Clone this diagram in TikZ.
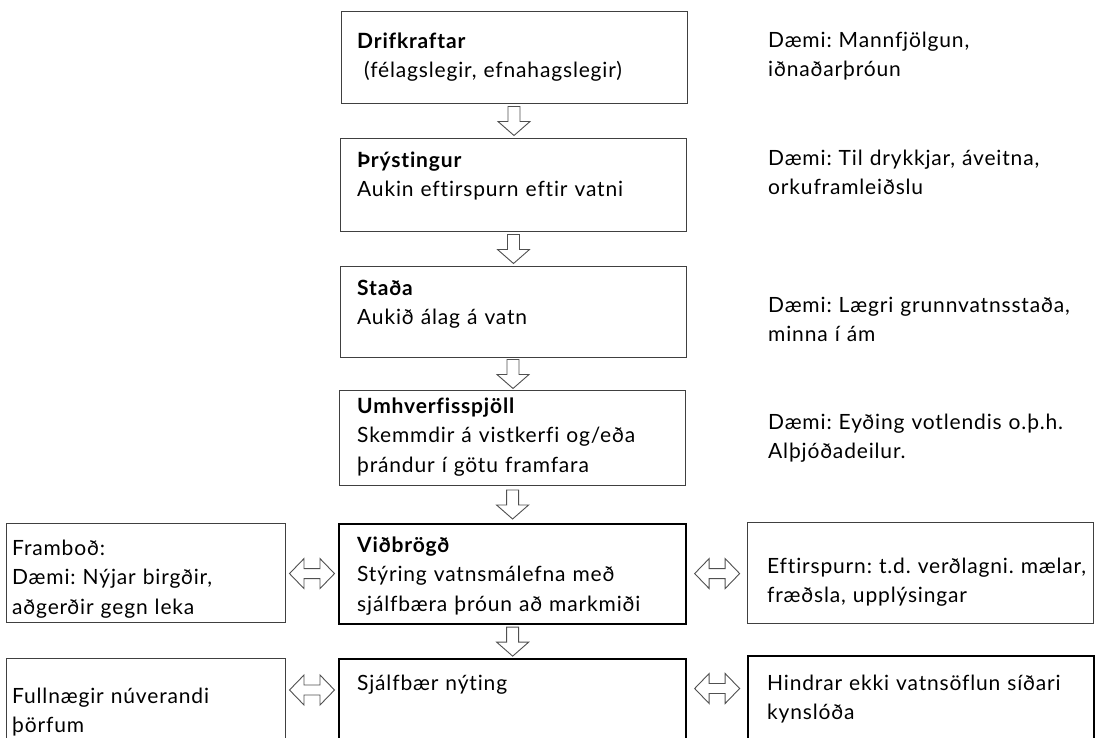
\documentclass[tikz,border=0pt]{standalone}
\usepackage{fontspec}
\setmainfont{Lato}[WordSpace=1.6, LetterSpace=4, Ligatures=CommonOff]
\frenchspacing
\usetikzlibrary{calc}
\definecolor{linegray}{HTML}{404040}
\definecolor{arrowgray}{HTML}{505050}
\tikzset{
  thinbox/.style={draw=linegray, line width=1pt, rectangle, inner sep=0pt, anchor=north west},
  thickbox/.style={draw=black, line width=2.3pt, rectangle, inner sep=0pt, anchor=north west},
  txt/.style={anchor=base west, align=left, inner sep=0pt, text width=420pt,
    font=\fontsize{21}{29.5}\selectfont\frenchspacing},
  arrowline/.style={draw=arrowgray, line width=0.9pt, fill=white, line join=miter},
  downarr/.pic={\path[arrowline] (-6,-14.5) -- (6,-14.5) -- (6,0.5) -- (16,0.5) -- (0,14.5) -- (-16,0.5) -- (-6,0.5) -- cycle;},
  dblarr/.pic={\path[arrowline] (-22.5,0) -- (-8,-15) -- (-8,-5) -- (8,-5) -- (8,-15) -- (22.5,0) -- (8,15) -- (8,5) -- (-8,5) -- (-8,15) -- cycle;}
}
\begin{document}
\begin{tikzpicture}[x=1pt,y=-1pt]
\useasboundingbox (0,0) rectangle (1096,737);
\clip (0,0) rectangle (1096,737);
\fill[white] (0,0) rectangle (1096,737);

% centre column
\node[thinbox, minimum width=346pt, minimum height=92pt] (b1) at (341,11) {};
\node[thinbox, minimum width=346pt, minimum height=93pt] (b2) at (340,138) {};
\node[thinbox, minimum width=346pt, minimum height=91pt] (b3) at (340,266) {};
\node[thinbox, minimum width=346pt, minimum height=95pt] (b4) at (339,390) {};
\node[thickbox, minimum width=347pt, minimum height=100pt] (b5) at (338,523) {};
\node[thickbox, minimum width=347pt, minimum height=100pt] (b6) at (338,658) {};

% side boxes
\node[thinbox, minimum width=279pt, minimum height=99pt] (l1) at (6,523) {};
\node[thinbox, minimum width=279pt, minimum height=100pt] (l2) at (6,658) {};
\node[thinbox, minimum width=346pt, minimum height=101pt] (r1) at (747,522) {};
\node[thickbox, minimum width=346pt, minimum height=100pt] (r2) at (747,655) {};

% texts in boxes
\node[txt] (t1) at ($(b1.north west)+(16,37)$) {\textbf{Drifkraftar}\\\hspace*{7pt}(félagslegir, efnahagslegir)};
\node[txt] (t2) at ($(b2.north west)+(17,29)$) {\textbf{Þrýstingur}\\Aukin eftirspurn eftir vatni};
\node[txt] (t3) at ($(b3.north west)+(17,29)$) {\textbf{Staða}\\Aukið álag á vatn};
\node[txt] (t4) at ($(b4.north west)+(18,23)$) {\textbf{Umhverfisspjöll}\\Skemmdir á vistkerfi og/eða\\þrándur í götu framfara};
\node[txt] (t5) at ($(b5.north west)+(19,29)$) {\textbf{Viðbrögð}\\Stýring vatnsmálefna með\\sjálfbæra þróun að markmiði};
\node[txt] (t6) at ($(b6.north west)+(19,32)$) {Sjálfbær nýting};
\node[txt] (tl1) at ($(l1.north west)+(6,32)$) {Framboð:\\Dæmi: Nýjar birgðir,\\aðgerðir gegn leka};
\node[txt] (tl2) at ($(l2.north west)+(6,45)$) {Fullnægir núverandi\\þörfum};
\node[txt] (tr1) at ($(r1.north west)+(20,51)$) {Eftirspurn: t.d. verðlagni. mælar,\\fræðsla, upplýsingar};
\node[txt] (tr2) at ($(r2.north west)+(20,35)$) {Hindrar ekki vatnsöflun síðari\\kynslóða};

% example texts
\node[txt] (s1) at (768,47) {Dæmi: Mannfjölgun,\\iðnaðarþróun};
\node[txt] (s2) at (768,165) {Dæmi: Til drykkjar, áveitna,\\orkuframleiðslu};
\node[txt] (s3) at (768,312) {Dæmi: Lægri grunnvatnsstaða,\\minna í ám};
\node[txt] (s4) at (768,429) {Dæmi: Eyðing votlendis o.þ.h.\\Alþjóðadeilur.};

% down arrows
\pic at ($(b1.south)!0.5!(b2.north)$) {downarr};
\pic at ($(b2.south)!0.5!(b3.north)$) {downarr};
\pic at ($(b3.south)!0.5!(b4.north)$) {downarr};
\pic at ($(b4.south)!0.5!(b5.north)$) {downarr};
\pic at ($(b5.south)!0.5!(b6.north)$) {downarr};

% double arrows
\pic at ($(l1.east)!0.5!(b5.west)$) {dblarr};
\pic at ($(b5.east)!0.5!(r1.west)$) {dblarr};
\pic at ($(l2.north east)!0.5!(b6.north west)+(0,32)$) {dblarr};
\pic at ($(b6.north east)!0.5!(r2.north west)+(0,32)$) {dblarr};
\end{tikzpicture}
\end{document}
